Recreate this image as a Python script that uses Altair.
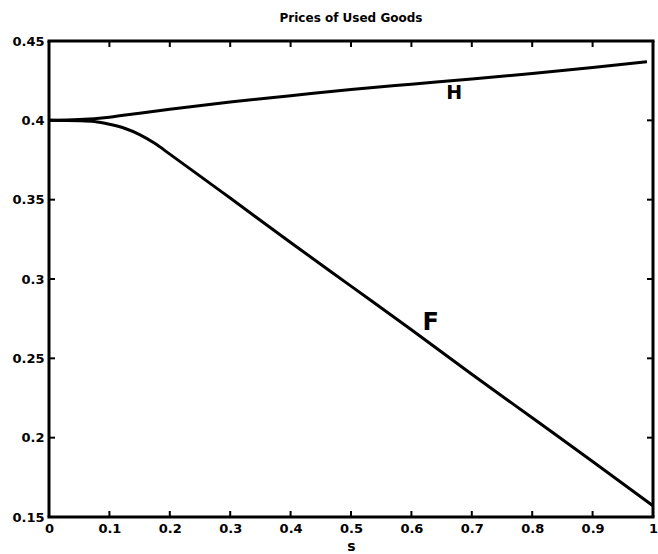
import altair as alt
import pandas as pd

# ---- data ----
s_H = [0, 0.05, 0.1, 0.15, 0.2, 0.3, 0.4, 0.5, 0.6, 0.7, 0.8, 0.9, 0.99]
price_H = [0.4, 0.4005, 0.402, 0.4045, 0.407, 0.4115, 0.4155, 0.4195, 0.4228, 0.426, 0.4295, 0.4333, 0.437]

s_F = [0, 0.05, 0.075, 0.1, 0.125, 0.15, 0.175, 0.2, 0.3, 0.4, 0.5, 0.6, 0.7, 0.8, 0.9, 1.0]
price_F = [0.4, 0.3997, 0.3992, 0.3975, 0.395, 0.391, 0.3855, 0.3787, 0.351, 0.323, 0.2955, 0.268, 0.240, 0.2125, 0.185, 0.157]

x_ticks = [0, 0.1, 0.2, 0.3, 0.4, 0.5, 0.6, 0.7, 0.8, 0.9, 1]
y_ticks = [0.15, 0.2, 0.25, 0.3, 0.35, 0.4, 0.45]

label_text = ["H", "F"]
label_s = [0.671, 0.632]
label_price = [0.4174, 0.2723]
label_size = [19, 24]

W, H = 604, 476
FONT = "DejaVu Sans"

lines = pd.DataFrame(
    {"s": s_H + s_F,
     "price": price_H + price_F,
     "series": ["H"] * len(s_H) + ["F"] * len(s_F)}
)
labels = pd.DataFrame({"text": label_text, "s": label_s, "price": label_price, "size": label_size})
xt = pd.DataFrame({"s": x_ticks[1:-1]})
yt = pd.DataFrame({"price": y_ticks[1:-1]})

xscale = alt.Scale(domain=[0, 1], nice=False, zero=False)
yscale = alt.Scale(domain=[0.15, 0.45], nice=False, zero=False)

xaxis = alt.Axis(values=x_ticks, format="~g", ticks=False, domain=False, grid=False,
                 labelFont=FONT, labelFontWeight="bold", labelFontSize=13, labelColor="black",
                 labelPadding=5, title="s", titleFont=FONT, titleFontWeight="bold",
                 titleFontSize=14, titleColor="black", titlePadding=4, labelFlush=False)
yaxis = alt.Axis(values=y_ticks, format="~g", ticks=False, domain=False, grid=False,
                 labelFont=FONT, labelFontWeight="bold", labelFontSize=13, labelColor="black",
                 labelPadding=5, title=None, labelFlush=False)

line = alt.Chart(lines).mark_line(color="black", strokeWidth=3, interpolate="monotone").encode(
    x=alt.X("s:Q", scale=xscale, axis=xaxis),
    y=alt.Y("price:Q", scale=yscale, axis=yaxis),
    detail="series:N",
)

text = alt.Chart(labels).mark_text(font="Comic Sans MS, DejaVu Sans", fontWeight="bold", color="black").encode(
    x=alt.X("s:Q", scale=xscale),
    y=alt.Y("price:Q", scale=yscale),
    text="text:N",
    size=alt.Size("size:Q", scale=None, legend=None),
)

tick_len = 6
bottom_ticks = alt.Chart(xt).mark_rule(color="black", strokeWidth=2).encode(
    x=alt.X("s:Q", scale=xscale), y=alt.value(H), y2=alt.value(H - tick_len))
top_ticks = alt.Chart(xt).mark_rule(color="black", strokeWidth=2).encode(
    x=alt.X("s:Q", scale=xscale), y=alt.value(0), y2=alt.value(tick_len))
left_ticks = alt.Chart(yt).mark_rule(color="black", strokeWidth=2).encode(
    y=alt.Y("price:Q", scale=yscale), x=alt.value(0), x2=alt.value(tick_len))
right_ticks = alt.Chart(yt).mark_rule(color="black", strokeWidth=2).encode(
    y=alt.Y("price:Q", scale=yscale), x=alt.value(W), x2=alt.value(W - tick_len))

# frame (box round the plot area)
frame_df = pd.DataFrame({"k": [0]})
frame_top = alt.Chart(frame_df).mark_rule(color="black", strokeWidth=3).encode(
    x=alt.value(-1.5), x2=alt.value(W + 1.5), y=alt.value(0))
frame_bottom = alt.Chart(frame_df).mark_rule(color="black", strokeWidth=3).encode(
    x=alt.value(-1.5), x2=alt.value(W + 1.5), y=alt.value(H))
frame_left = alt.Chart(frame_df).mark_rule(color="black", strokeWidth=3).encode(
    x=alt.value(0), y=alt.value(0), y2=alt.value(H))
frame_right = alt.Chart(frame_df).mark_rule(color="black", strokeWidth=3).encode(
    x=alt.value(W), y=alt.value(0), y2=alt.value(H))

chart = alt.layer(line, text, bottom_ticks, top_ticks, left_ticks, right_ticks,
                  frame_top, frame_bottom, frame_left, frame_right).properties(
    width=W, height=H,
    title=alt.TitleParams("Prices of Used Goods", font=FONT, fontWeight="bold",
                          fontSize=12, color="black", offset=10),
    autosize=alt.AutoSizeParams(type="none"),
    padding={"left": 49, "top": 41, "right": 5, "bottom": 37},
).configure_view(stroke=None).configure(background="white")

chart.save("out.html", embed_options={"renderer": "svg", "actions": False})
